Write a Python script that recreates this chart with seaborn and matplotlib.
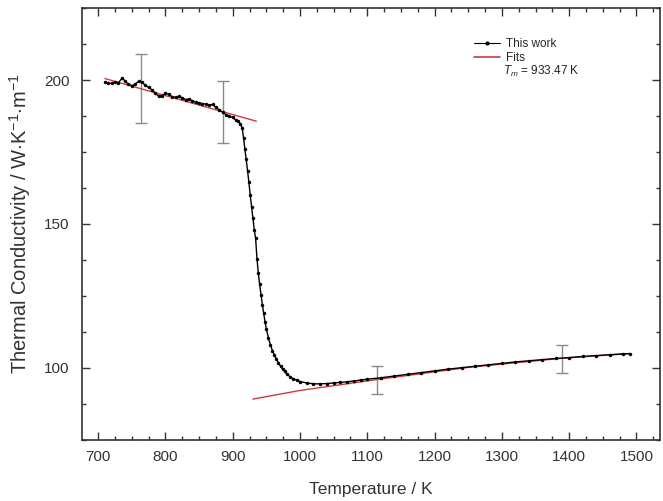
import matplotlib
matplotlib.use("Agg")
import matplotlib.pyplot as plt
from matplotlib.lines import Line2D
from matplotlib.ticker import MultipleLocator
import seaborn as sns

# Measured thermal conductivity (This work)
temp_k = [710, 715, 720, 725, 730, 736, 740, 745, 750, 755, 760, 765, 770, 775,
          780, 785, 790, 795, 800, 805, 810, 815, 820, 825, 830, 835, 840, 845,
          850, 855, 860, 865, 870, 875, 880, 885, 890, 895, 900, 905, 908, 911,
          914, 916, 918, 920, 922, 924, 926, 928, 930, 932, 934, 936, 938, 940,
          942, 944, 946, 948, 950, 953, 956, 959, 962, 965, 968, 971, 974, 977,
          980, 985, 990, 995, 1000, 1010, 1020, 1030, 1040, 1050, 1060, 1070,
          1080, 1090, 1100, 1120, 1140, 1160, 1180, 1200, 1220, 1240, 1260,
          1280, 1300, 1320, 1340, 1360, 1380, 1400, 1420, 1440, 1460, 1480, 1490]
kappa = [199.4, 199.0, 198.8, 199.3, 199.0, 200.8, 199.5, 198.6, 198.0, 198.6,
         199.5, 199.2, 198.2, 197.4, 196.6, 195.4, 194.3, 194.6, 195.4, 195.0,
         194.2, 194.0, 194.3, 193.8, 193.2, 193.4, 192.8, 192.3, 192.0, 191.8,
         191.6, 191.2, 191.5, 190.5, 189.6, 188.8, 188.0, 187.4, 187.0, 186.0,
         185.6, 184.8, 183.5, 180.0, 176.0, 172.5, 168.5, 164.5, 160.0, 156.0,
         152.0, 148.0, 145.0, 138.0, 133.0, 129.0, 125.5, 122.0, 119.0, 116.0,
         113.5, 110.5, 108.0, 106.0, 104.5, 103.0, 101.8, 100.6, 99.6, 98.8,
         98.0, 97.0, 96.3, 95.8, 95.3, 94.8, 94.5, 94.5, 94.6, 94.8, 95.0, 95.2,
         95.5, 95.8, 96.1, 96.6, 97.2, 97.8, 98.4, 99.0, 99.6, 100.1, 100.6,
         101.1, 101.6, 102.1, 102.5, 102.9, 103.3, 103.6, 104.0, 104.3, 104.6,
         104.9, 105.0]

# Fits (solid and liquid)
fit_solid_t = [710, 935]
fit_solid_k = [200.5, 185.7]
fit_liquid_t = [930, 1000, 1115, 1250, 1390, 1490]
fit_liquid_k = [89.2, 92.2, 96.0, 100.2, 103.4, 105.0]

# Error bars
err_t = [764, 885, 1115, 1389]
err_k = [197.2, 188.9, 95.9, 103.1]
err_size = [12.0, 10.7, 4.9, 4.9]

sns.set_style("ticks")
plt.rcParams["font.family"] = ["Liberation Sans", "DejaVu Sans"]
plt.rcParams["xtick.direction"] = "in"
plt.rcParams["ytick.direction"] = "in"
plt.rcParams["mathtext.fontset"] = "custom"
plt.rcParams["mathtext.it"] = "Liberation Sans:italic"
plt.rcParams["mathtext.rm"] = "Liberation Sans"

fig = plt.figure(figsize=(6.63, 5.01), dpi=100)
ax = fig.add_axes([0.1237, 0.1218, 0.8718, 0.8622])

fit_colour = "#d03a3a"
ax.errorbar(err_t, err_k, yerr=err_size, fmt="none", ecolor="#8a8a8a",
            elinewidth=1.0, capsize=4, capthick=1.0, zorder=1)
sns.lineplot(x=fit_solid_t, y=fit_solid_k, color=fit_colour, linewidth=1.0,
             ax=ax, zorder=2)
sns.lineplot(x=fit_liquid_t, y=fit_liquid_k, color=fit_colour, linewidth=1.0,
             ax=ax, zorder=2)
sns.lineplot(x=temp_k, y=kappa, sort=False, color="black", linewidth=1.0,
             marker="o", markersize=2.5, markeredgewidth=0, ax=ax, zorder=3)

ax.set_xlim(676, 1535)
ax.set_ylim(75, 225)
ax.xaxis.set_major_locator(MultipleLocator(100))
ax.xaxis.set_minor_locator(MultipleLocator(25))
ax.yaxis.set_major_locator(MultipleLocator(50))
ax.yaxis.set_minor_locator(MultipleLocator(12.5))
ax.tick_params(which="both", top=True, right=True, colors="#333333",
               labelcolor="#333333", labelsize=11)
ax.tick_params(axis="x", pad=7)
ax.tick_params(axis="y", pad=9)
ax.tick_params(which="major", length=6, width=1)
ax.tick_params(which="minor", length=3, width=1)
for sp in ax.spines.values():
    sp.set_color("#333333")
    sp.set_linewidth(1.2)

ax.set_xlabel("Temperature / K", fontsize=12.5, color="#333333", labelpad=13)
ax.set_ylabel(r"Thermal Conductivity / W$\cdot$K$^{-1}$$\cdot$m$^{-1}$",
              fontsize=14.5, color="#333333", labelpad=8)

handles = [
    Line2D([], [], color="black", linewidth=0.8, marker="o", markersize=2),
    Line2D([], [], color=fit_colour, linewidth=1.2),
]
ax.legend(handles, ["This work", "Fits"], loc="upper left",
          bbox_to_anchor=(0.66, 0.955), frameon=False, fontsize=8.5,
          handlelength=2.2, labelspacing=0.2, handletextpad=0.5)
ax.text(0.728, 0.852, r"$T_m$ = 933.47 K", transform=ax.transAxes,
        fontsize=8.5, color="#222222", va="center")

fig.savefig("out.png", dpi=100)
